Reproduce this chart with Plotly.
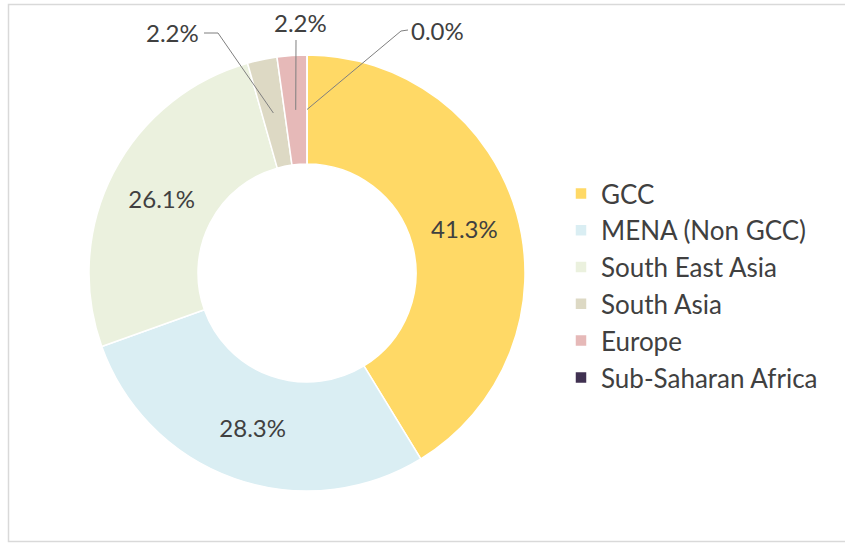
import math
import plotly.graph_objects as go

# Share of total by region
regions = ["GCC", "MENA (Non GCC)", "South East Asia", "South Asia", "Europe", "Sub-Saharan Africa"]
shares = [41.3, 28.3, 26.1, 2.2, 2.2, 0.0]
colors = ["#FFD966", "#DAEEF3", "#EBF1DE", "#DDD9C4", "#E6B9B8", "#403151"]

W, H = 845, 545
FONT = "Lato"
TEXT_COLOR = "#404040"

# Ring geometry in pixels
CX, CY, R_OUT = 307, 273, 218
HOLE = 0.5


def px(x):
    return x / W


def py(y):
    return 1 - y / H


# Large slices carry their label inside the ring; small ones get callouts
inside_text = [f"{v:.1f}%" if v >= 5 else "" for v in shares]

fig = go.Figure(
    go.Pie(
        labels=regions,
        values=shares,
        sort=False,
        direction="clockwise",
        rotation=0,
        hole=HOLE,
        marker=dict(colors=colors, line=dict(color="white", width=1.5)),
        text=inside_text,
        textinfo="text",
        textposition="inside",
        insidetextorientation="horizontal",
        textfont=dict(family=FONT, size=24, color=TEXT_COLOR),
        hoverinfo="label+percent",
        domain=dict(
            x=[px(CX - R_OUT), px(CX + R_OUT)],
            y=[py(CY + R_OUT), py(CY - R_OUT)],
        ),
        showlegend=True,
    )
)

# Callout anchors: mid-angle of each slice at the middle of the ring
total = sum(shares)
r_mid = R_OUT * (1 + HOLE) / 2
cum = 0.0
anchors = []
for v in shares:
    theta = 2 * math.pi * (cum + v / 2) / total
    anchors.append((CX + r_mid * math.sin(theta), CY - r_mid * math.cos(theta)))
    cum += v

# label centre, and the elbow points of each leader line
callouts = {
    3: dict(text_at=(172, 32), elbow=[(204, 33), (218, 33)]),
    4: dict(text_at=(300, 22), elbow=[(296, 40)]),
    5: dict(text_at=(437, 30), elbow=[(408, 30), (401, 31)]),
}

shapes = []
annotations = []
for i, c in callouts.items():
    tx, ty = anchors[i]
    pts = c["elbow"] + [(tx, ty)]
    path = "M " + " L ".join(f"{px(x)},{py(y)}" for x, y in pts)
    shapes.append(dict(type="path", xref="paper", yref="paper", path=path,
                       line=dict(color="#7F7F7F", width=1)))
    annotations.append(dict(
        x=px(c["text_at"][0]), y=py(c["text_at"][1]), xref="paper", yref="paper",
        text=f"{shares[i]:.1f}%", showarrow=False, xanchor="center", yanchor="middle",
        font=dict(family=FONT, size=24, color=TEXT_COLOR),
    ))

# Chart border
shapes.append(dict(type="rect", xref="paper", yref="paper",
                   x0=px(8.5), y0=py(541.5), x1=px(W + 5), y1=py(4.5),
                   line=dict(color="#D9D9D9", width=1.5), layer="below"))

fig.update_layout(
    width=W,
    height=H,
    margin=dict(l=0, r=0, t=0, b=0),
    paper_bgcolor="white",
    plot_bgcolor="white",
    font=dict(family=FONT, color=TEXT_COLOR),
    legend=dict(
        x=px(561), y=py(170), xanchor="left", yanchor="top",
        font=dict(family=FONT, size=26, color=TEXT_COLOR),
        itemwidth=30,
        bgcolor="rgba(0,0,0,0)",
    ),
    shapes=shapes,
    annotations=annotations,
)

fig.write_html("out.html")
